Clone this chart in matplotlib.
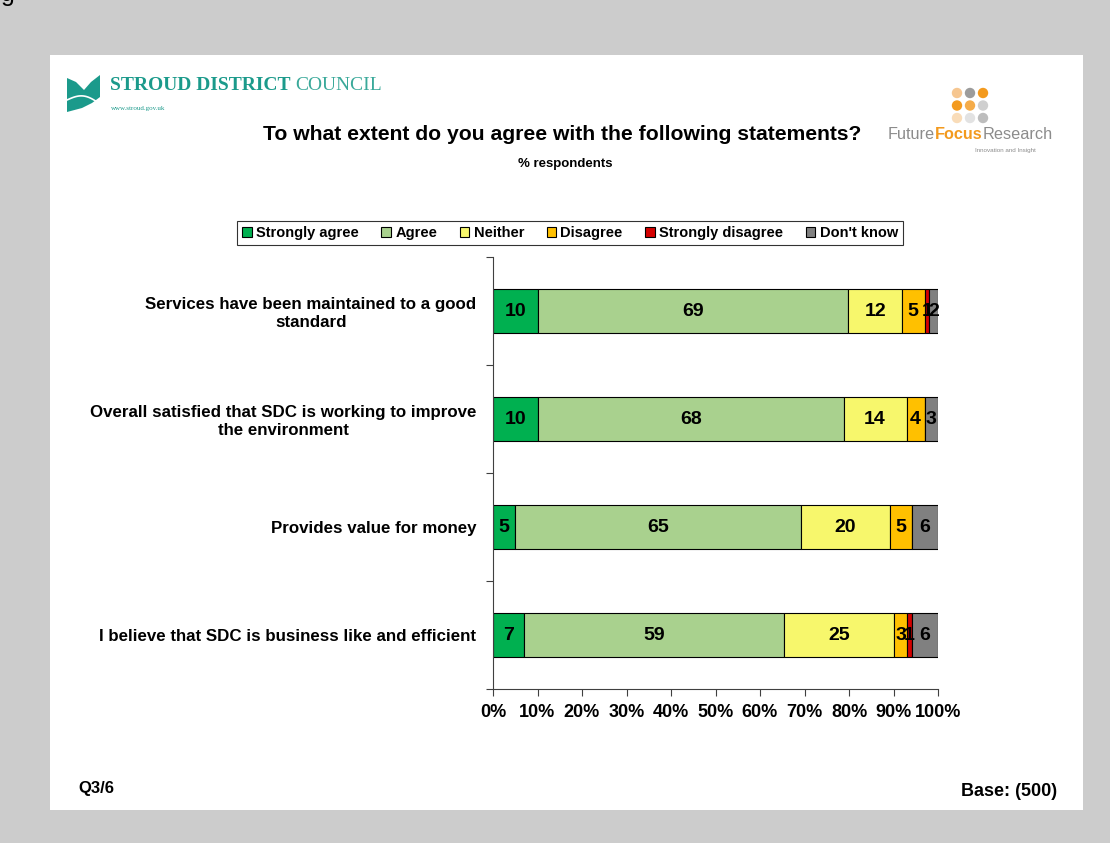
import numpy as np
import matplotlib.pyplot as plt
from matplotlib.patches import Rectangle, Polygon, Circle

plt.rcParams['font.family'] = ['Liberation Sans', 'DejaVu Sans']

# survey results (% respondents), rounded as reported
statements = ['Services have been maintained to a good\nstandard',
              'Overall satisfied that SDC is working to improve\nthe environment',
              'Provides value for money',
              'I believe that SDC is business like and efficient']
responses = ['Strongly agree', 'Agree', 'Neither', 'Disagree',
             'Strongly disagree', "Don't know"]
strongly_agree = [10, 10, 5, 7]
agree = [69, 68, 65, 59]
neither = [12, 14, 20, 25]
disagree = [5, 4, 5, 3]
strongly_disagree = [1, 0, 0, 1]
dont_know = [2, 3, 6, 6]
pct_ticks = [0, 10, 20, 30, 40, 50, 60, 70, 80, 90, 100]

colours = ['#00b050', '#a9d18e', '#f7f76c', '#ffc000', '#d40000', '#808080']

W, H = 1110, 843
fig = plt.figure(figsize=(W / 100, H / 100), dpi=100)
fig.patch.set_facecolor('#cccccc')

# overlay in pixel coordinates for the page panel and logos
bg = fig.add_axes([0, 0, 1, 1], zorder=0)
bg.set_xlim(0, W)
bg.set_ylim(H, 0)
bg.axis('off')
bg.add_patch(Rectangle((50, 55), 1033, 755, facecolor='white', edgecolor='none'))
bg.text(1, 6, 'g', fontsize=18, va='bottom', ha='left', color='black')


def run_text(x, yb, parts, **kw):
    # lay out differently styled words one after another on a baseline
    for word, col, wt in parts:
        tx = bg.text(x, yb, word, color=col, fontweight=wt, va='baseline',
                     ha='left', **kw)
        fig.canvas.draw()
        x += tx.get_window_extent().width
    return x


# Stroud District Council logo
teal = '#1b9a8b'
bg.add_patch(Polygon([(67, 78), (76, 82), (84, 90), (91, 82), (100, 75),
                      (100, 97), (92, 103), (82, 108), (67, 112)],
                     closed=True, facecolor=teal, edgecolor='none'))
t = np.linspace(0, 1, 30)
bg.plot(67 + 33 * t, 100 - 6 * np.sin(np.pi * t) + 4 * t, color='white', lw=1.2)
run_text(110, 90, [('STROUD DISTRICT ', teal, 'bold'),
                   ('COUNCIL', '#3aa99a', 'normal')],
         family='Liberation Serif', fontsize=14)
bg.text(111, 110, 'www.stroud.gov.uk', family='Liberation Serif', fontsize=5,
        color=teal, va='baseline', ha='left')

# Future Focus Research logo
dot_cols = [['#f6c690', '#9c9c9c', '#f39a1e'],
            ['#f39a1e', '#f5ac4a', '#cfcfcf'],
            ['#f9dcb8', '#e2e2e2', '#bdbdbd']]
for r, row in enumerate(dot_cols):
    for c, col in enumerate(row):
        bg.add_patch(Circle((957 + 13 * c, 93 + 12.5 * r), 5.2,
                            facecolor=col, edgecolor='none'))
run_text(888, 139, [('Future', '#8c8c8c', 'normal'),
                    ('Focus', '#f39a1e', 'bold'),
                    ('Research', '#8c8c8c', 'normal')], fontsize=11.7)
bg.text(1005, 152, 'Innovation and Insight', fontsize=4.5, color='#8c8c8c',
        ha='center', va='baseline')

# headings and footers
bg.text(562, 134, 'To what extent do you agree with the following statements?',
        fontsize=15.2, fontweight='bold', ha='center', va='center')
bg.text(565, 164, '% respondents', fontsize=9.5, fontweight='bold',
        ha='center', va='center')
bg.text(78, 788, 'Q3/6', fontsize=12, fontweight='bold', ha='left', va='center')
bg.text(1057, 792, 'Base: (500)', fontsize=13, fontweight='bold',
        ha='right', va='center')

# 100% stacked bar chart
ax = fig.add_axes([493 / W, 1 - 689 / H, 445 / W, 432 / H], zorder=1)
ax.patch.set_alpha(0)
series = [strongly_agree, agree, neither, disagree, strongly_disagree, dont_know]
data = np.array(series, dtype=float)
totals = data.sum(axis=0)
shares = data / totals * 100
y = np.arange(len(statements))
left = np.zeros(len(statements))
handles = []
for vals, share, col, name in zip(series, shares, colours, responses):
    bars = ax.barh(y, share, left=left, height=0.41, color=col,
                   edgecolor='black', linewidth=0.8, label=name)
    ax.bar_label(bars, labels=[str(v) if v else '' for v in vals],
                 label_type='center', fontsize=14, fontweight='bold')
    handles.append(bars)
    left += share

ax.set_xlim(0, 100)
ax.set_ylim(len(statements) - 0.5, -0.5)
ax.set_xticks(pct_ticks)
ax.set_xticklabels([f'{p}%' for p in pct_ticks], fontsize=13, fontweight='bold')
ax.set_yticks(y)
ax.set_yticklabels(statements, fontsize=12.2, fontweight='bold', ma='center',
                   linespacing=1.2)
ax.set_yticks(np.arange(len(statements) + 1) - 0.5, minor=True)
ax.tick_params(axis='y', which='major', length=0, pad=12)
ax.tick_params(axis='y', which='minor', length=5, width=0.8, color='#404040')
ax.tick_params(axis='x', length=5, width=0.8, color='#404040', pad=6)
for s in ['top', 'right']:
    ax.spines[s].set_visible(False)
for s in ['left', 'bottom']:
    ax.spines[s].set_color('#404040')
    ax.spines[s].set_linewidth(0.8)

leg = fig.legend(handles=handles, loc='center', bbox_to_anchor=(570 / W, 1 - 233 / H),
                 ncol=6, frameon=True, fancybox=False, edgecolor='black',
                 prop={'size': 10.5, 'weight': 'bold'}, handlelength=0.65,
                 handleheight=0.65, handletextpad=0.3, columnspacing=1.55,
                 borderpad=0.35)
leg.get_frame().set_linewidth(0.8)

fig.savefig('out.png', dpi=100, facecolor=fig.get_facecolor())
